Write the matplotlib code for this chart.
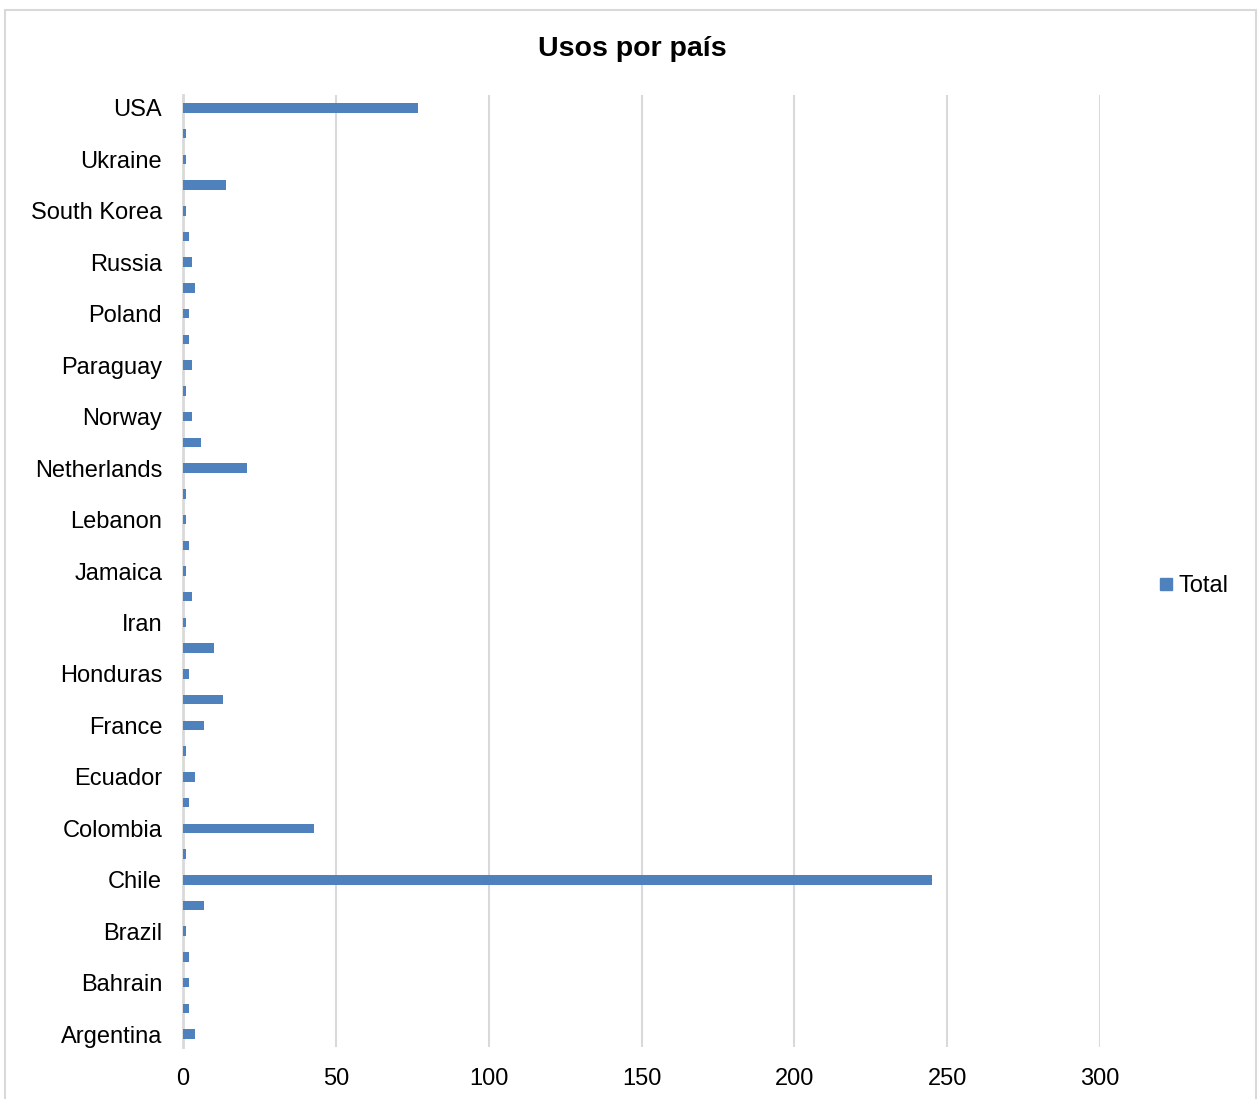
import matplotlib.pyplot as plt
from matplotlib.patches import Rectangle
from matplotlib.lines import Line2D

# Countries from bottom to top (every other one shown as a tick label, as in Excel)
countries = ['Argentina', 'Australia', 'Bahrain', 'Belgium', 'Brazil', 'Canada',
             'Chile', 'China', 'Colombia', 'Costa Rica', 'Ecuador', 'El Salvador',
             'France', 'Germany', 'Honduras', 'India', 'Iran', 'Italy',
             'Jamaica', 'Japan', 'Lebanon', 'Mexico', 'Netherlands', 'New Zealand',
             'Norway', 'Panama', 'Paraguay', 'Peru', 'Poland', 'Portugal',
             'Russia', 'South Africa', 'South Korea', 'Spain', 'Ukraine',
             'United Kingdom', 'USA']
totals = [4, 2, 2, 2, 1, 7,
          245, 1, 43, 2, 4, 1,
          7, 13, 2, 10, 1, 3,
          1, 2, 1, 1, 21, 6,
          3, 1, 3, 2, 2, 4,
          3, 2, 1, 14, 1,
          1, 77]
x_ticks = [0, 50, 100, 150, 200, 250, 300]

plt.rcParams['font.family'] = ['Liberation Sans', 'DejaVu Sans']

W, H = 1260, 1099
fig = plt.figure(figsize=(W / 100, H / 100), dpi=100)
fig.patch.set_facecolor('#ffffff')

# outer chart frame (Excel chart area border, bottom edge cut off)
fig.add_artist(Rectangle((5 / W, -0.02), (1256 - 5) / W, (H - 10) / H + 0.02,
                         transform=fig.transFigure, fill=False,
                         edgecolor='#d9d9d9', linewidth=1.5))

ax = fig.add_axes([183 / W, 1 - 1047 / H, (1100 - 183) / W, (1047 - 95) / H])
ypos = list(range(len(countries)))
ax.barh(ypos, totals, height=0.37, color='#4f81bd', zorder=3)

ax.set_xlim(0, 300)
ax.set_ylim(-0.5, len(countries) - 0.5)
ax.set_xticks(x_ticks)
ax.set_yticks(ypos)
ax.set_yticklabels([c if i % 2 == 0 else '' for i, c in enumerate(countries)])

ax.grid(True, axis='x', color='#d9d9d9', linewidth=1.5, zorder=0)
ax.grid(False, axis='y')
for s in ['top', 'right', 'bottom']:
    ax.spines[s].set_visible(False)
ax.spines['left'].set_color('#d9d9d9')
ax.spines['left'].set_linewidth(2)
ax.spines['left'].set_zorder(2)

ax.tick_params(axis='y', length=0, pad=15, labelsize=17, labelcolor='#000000')
ax.tick_params(axis='x', length=0, pad=15, labelsize=17, labelcolor='#000000')

fig.text(632 / W, 1 - 48.5 / H, 'Usos por país', ha='center', va='center',
         fontsize=20.5, fontweight='bold')

handle = Line2D([], [], marker='s', linestyle='none', markersize=9,
                markerfacecolor='#4f81bd', markeredgecolor='#4f81bd')
fig.legend([handle], ['Total'], loc='center left',
           bbox_to_anchor=(1158 / W, 1 - 586 / H), frameon=False,
           fontsize=17, handlelength=0.7, handletextpad=0.15,
           borderaxespad=0, borderpad=0)

plt.savefig('out.png', dpi=100, facecolor='#ffffff')
